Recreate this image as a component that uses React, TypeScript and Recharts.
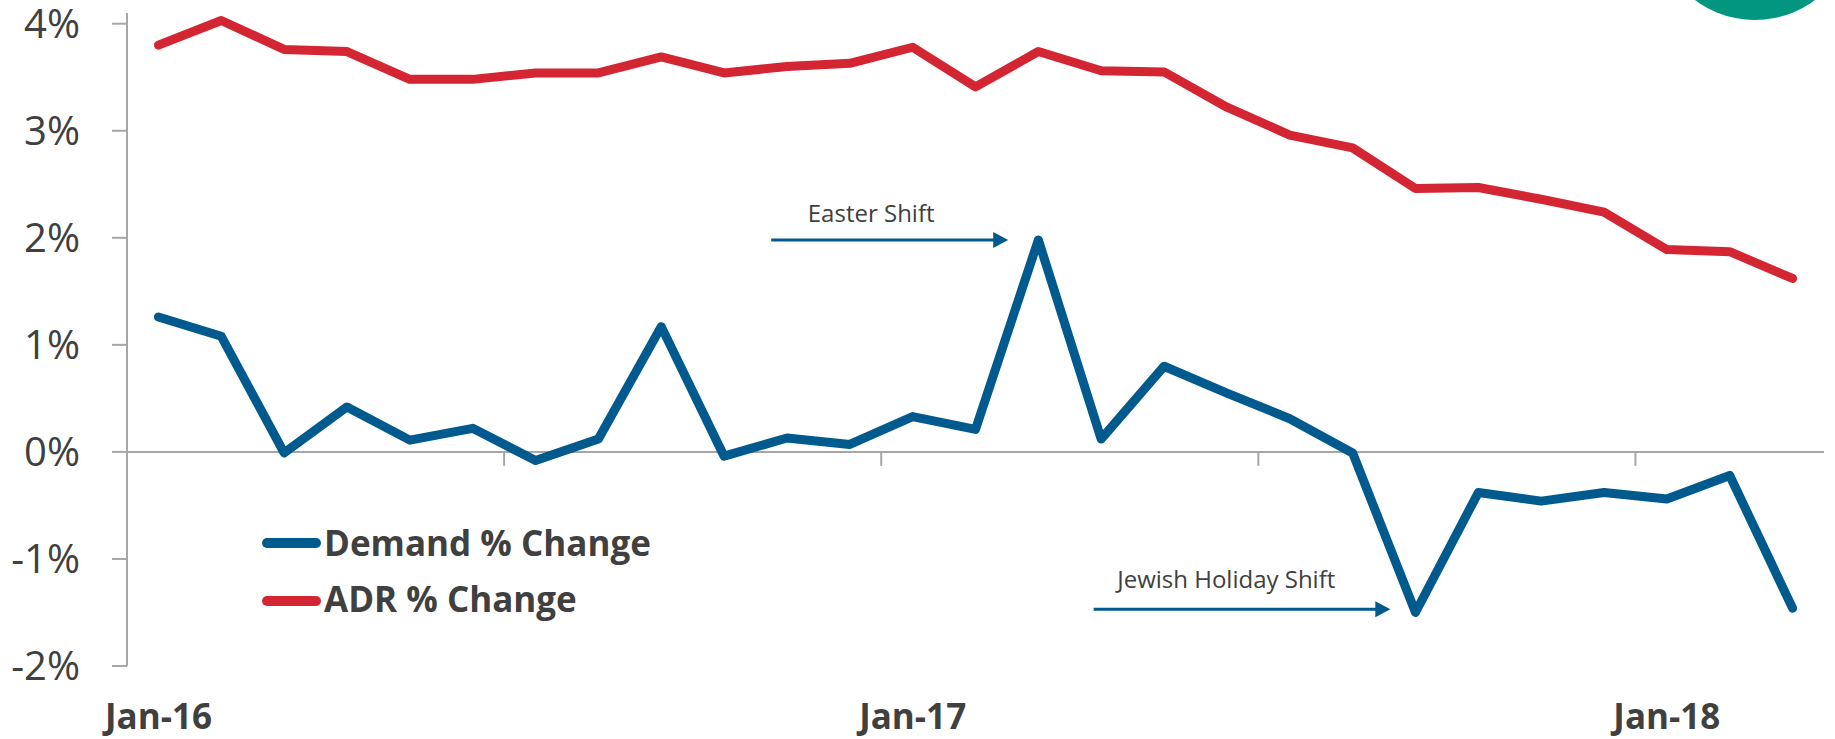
import { LineChart, Line, XAxis, YAxis, Legend, ReferenceLine, ReferenceDot } from 'recharts';

// monthly % change, Jan-16 .. Mar-18
const months = [
  'Jan-16', 'Feb-16', 'Mar-16', 'Apr-16', 'May-16', 'Jun-16', 'Jul-16', 'Aug-16', 'Sep-16',
  'Oct-16', 'Nov-16', 'Dec-16', 'Jan-17', 'Feb-17', 'Mar-17', 'Apr-17', 'May-17', 'Jun-17',
  'Jul-17', 'Aug-17', 'Sep-17', 'Oct-17', 'Nov-17', 'Dec-17', 'Jan-18', 'Feb-18', 'Mar-18',
];

const demand = [
  1.26, 1.08, -0.01, 0.42, 0.11, 0.22, -0.08, 0.12, 1.17,
  -0.04, 0.13, 0.07, 0.33, 0.21, 1.98, 0.12, 0.80, 0.55,
  0.31, -0.01, -1.50, -0.38, -0.46, -0.38, -0.44, -0.22, -1.46,
];

const adr = [
  3.80, 4.03, 3.76, 3.74, 3.48, 3.48, 3.54, 3.54, 3.69,
  3.54, 3.60, 3.63, 3.78, 3.41, 3.74, 3.56, 3.55, 3.22,
  2.96, 2.84, 2.46, 2.47, 2.36, 2.24, 1.89, 1.87, 1.62,
];

const yTicks = [-2, -1, 0, 1, 2, 3, 4];
const labelTicks = [0, 12, 24]; // Jan-16, Jan-17, Jan-18
const minorTicks = [5.5, 11.5, 17.5, 23.5]; // tick marks between categories

// annotation arrows: [start, tip] in month index, at a % level
const notes = [
  { text: 'Easter Shift', y: 1.98, from: 9.75, to: 13.52, textX: 11.34, textY: 2.15 },
  { text: 'Jewish Holiday Shift', y: -1.47, from: 14.88, to: 19.6, textX: 16.99, textY: -1.27 },
];

const data = months.map((m, i) => ({ i, month: m, demand: demand[i], adr: adr[i] }));

const BLUE = '#005a8e';
const RED = '#d42632';
const TEXT = '#404040';
const AXIS = '#a6a6a6';
const FONT = '"Open Sans", sans-serif';

const Arrow = (props: any) => {
  const { x1, y1, x2, y2 } = props;
  return (
    <g>
      <line x1={x1} y1={y1} x2={x2 - 12} y2={y2} stroke={BLUE} strokeWidth={3} />
      <polygon points={`${x2},${y2} ${x2 - 15},${y2 - 8} ${x2 - 15},${y2 + 8}`} fill={BLUE} />
    </g>
  );
};

const NoteText = (text: string) => (props: any) => (
  <text x={props.cx} y={props.cy} textAnchor="middle" fontSize={24} fontFamily={FONT} fill={TEXT}>
    {text}
  </text>
);

const renderLegend = () => (
  <svg width={430} height={130}>
    <line x1={22} y1={43} x2={71} y2={43} stroke={BLUE} strokeWidth={10} strokeLinecap="round" />
    <text x={79} y={56} fontSize={35} fontWeight={700} fontFamily={FONT} fill={TEXT}>Demand % Change</text>
    <line x1={22} y1={101} x2={71} y2={101} stroke={RED} strokeWidth={10} strokeLinecap="round" />
    <text x={79} y={112} fontSize={35} fontWeight={700} fontFamily={FONT} fill={TEXT}>ADR % Change</text>
  </svg>
);

export default function App() {
  return (
    <div style={{ position: 'absolute', left: 0, top: 0, width: 1835, height: 739, overflow: 'hidden', background: '#fff' }}>
      {/* teal badge cut off at the top right */}
      <div style={{ position: 'absolute', left: 1655, top: -180, width: 200, height: 200, borderRadius: '50%', background: '#00967f' }} />
      <LineChart width={1835} height={739} data={data} margin={{ top: 13, right: 11, bottom: 0, left: 0 }}>
        <XAxis
          type="number"
          dataKey="i"
          domain={[-0.5, 26.5]}
          ticks={labelTicks}
          interval={0}
          tickFormatter={(v: number) => months[v]}
          axisLine={false}
          tickLine={false}
          tickSize={0}
          tickMargin={38}
          height={73}
          tick={{ fontSize: 35, fontWeight: 700, fontFamily: FONT, fill: TEXT }}
        />
        <YAxis
          domain={[-2, 4.1]}
          ticks={yTicks}
          interval={0}
          tickFormatter={(v: number) => `${v}%`}
          width={127}
          axisLine={{ stroke: AXIS, strokeWidth: 2 }}
          tickLine={{ stroke: AXIS, strokeWidth: 2 }}
          tickSize={15}
          tickMargin={32}
          tick={{ fontSize: 40, fontFamily: FONT, fill: TEXT }}
        />
        <ReferenceLine y={0} stroke={AXIS} strokeWidth={2} />
        {minorTicks.map((t) => (
          <ReferenceLine key={t} segment={[{ x: t, y: 0 }, { x: t, y: -0.13 }]} stroke={AXIS} strokeWidth={2} />
        ))}
        {notes.map((n) => (
          <ReferenceLine key={n.text} segment={[{ x: n.from, y: n.y }, { x: n.to, y: n.y }]} shape={Arrow} />
        ))}
        {notes.map((n) => (
          <ReferenceDot key={n.text + 't'} x={n.textX} y={n.textY} r={0} shape={NoteText(n.text)} />
        ))}
        <Line
          type="linear"
          dataKey="adr"
          name="ADR % Change"
          stroke={RED}
          strokeWidth={9}
          strokeLinecap="round"
          strokeLinejoin="round"
          dot={false}
          activeDot={false}
          isAnimationActive={false}
        />
        <Line
          type="linear"
          dataKey="demand"
          name="Demand % Change"
          stroke={BLUE}
          strokeWidth={9}
          strokeLinecap="round"
          strokeLinejoin="round"
          dot={false}
          activeDot={false}
          isAnimationActive={false}
        />
        <Legend
          layout="vertical"
          align="center"
          verticalAlign="middle"
          content={renderLegend}
          wrapperStyle={{ left: 245, top: 500, width: 430, height: 130 }}
        />
      </LineChart>
    </div>
  );
}
